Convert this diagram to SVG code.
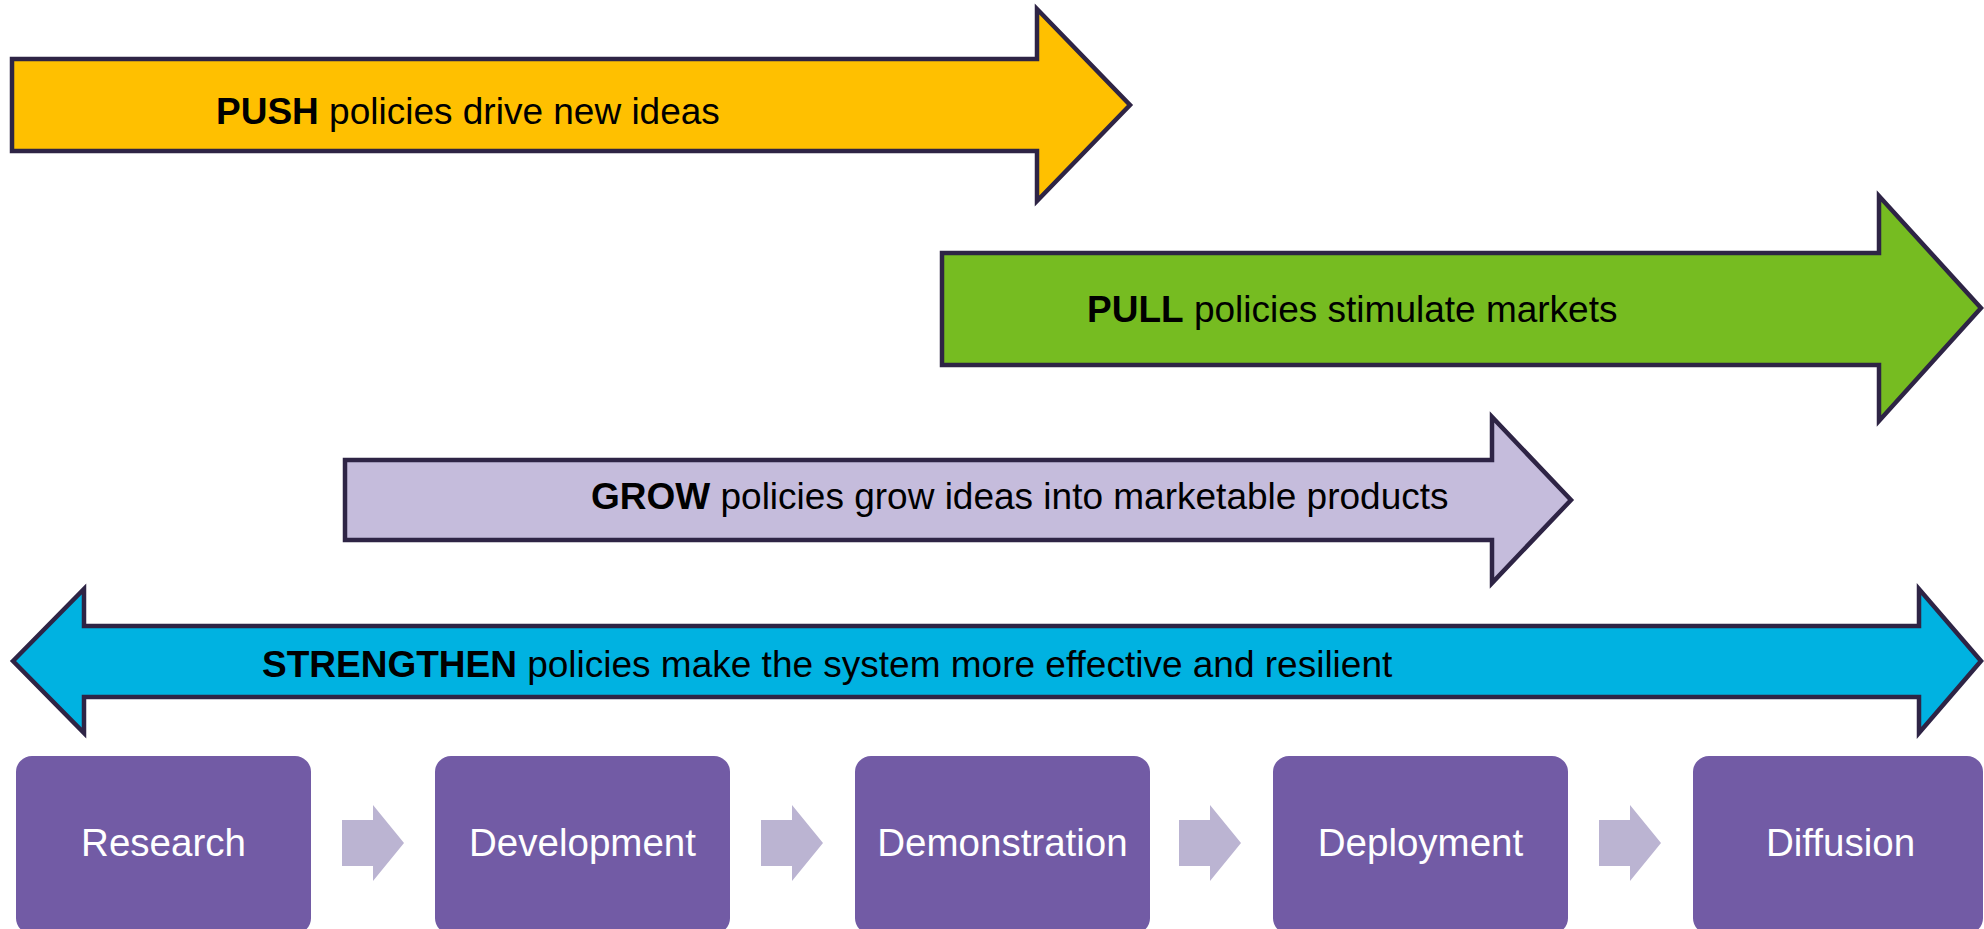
<svg xmlns="http://www.w3.org/2000/svg" width="1984" height="929" viewBox="0 0 1984 929">
<style>
.arrow{stroke:#2E2445;stroke-width:4.5;stroke-linejoin:miter}
.lbl{font-family:"Liberation Sans",Arial,sans-serif;font-size:37px;fill:#000}
.lbl tspan.b{font-weight:bold}
.box{fill:#725BA5}
.btxt{font-family:"Liberation Sans",Arial,sans-serif;font-size:38.5px;fill:#fff;text-anchor:middle}
.chev{fill:#BBB4D2}
</style>
<rect width="1984" height="929" fill="#fff"/>
<g id="push">
<path class="arrow" fill="#FFC000" d="M12,59 H1037 V9 L1130,105 L1037,201 V151 H12 Z"/>
<text class="lbl" x="216" y="124"><tspan class="b">PUSH</tspan> policies drive new ideas</text>
</g>
<g id="pull">
<path class="arrow" fill="#76BC21" d="M942,253 H1879 V196 L1981,308 L1879,421 V365 H942 Z"/>
<text class="lbl" x="1087" y="322"><tspan class="b">PULL</tspan> policies stimulate markets</text>
</g>
<g id="grow">
<path class="arrow" fill="#C5BCDC" d="M345,460 H1492 V417 L1571,500 L1492,583 V540 H345 Z"/>
<text class="lbl" x="591" y="509"><tspan class="b">GROW</tspan> policies grow ideas into marketable products</text>
</g>
<g id="strengthen">
<path class="arrow" fill="#00B2E1" d="M13,661 L84,589 V626 H1919 V589 L1981,661 L1919,733 V697 H84 V733 Z"/>
<text class="lbl" x="262" y="677"><tspan class="b">STRENGTHEN</tspan> policies make the system more effective and resilient</text>
</g>
<g id="research"><rect class="box" x="16" y="756" width="295" height="178" rx="16"/><text class="btxt" x="163.5" y="856">Research</text></g>
<g id="development"><rect class="box" x="435" y="756" width="295" height="178" rx="16"/><text class="btxt" x="582.5" y="856">Development</text></g>
<g id="demonstration"><rect class="box" x="855" y="756" width="295" height="178" rx="16"/><text class="btxt" x="1002.5" y="856">Demonstration</text></g>
<g id="deployment"><rect class="box" x="1273" y="756" width="295" height="178" rx="16"/><text class="btxt" x="1420.5" y="856">Deployment</text></g>
<g id="diffusion"><rect class="box" x="1693" y="756" width="290" height="178" rx="16"/><text class="btxt" x="1840.5" y="856">Diffusion</text></g>
<g id="connectors">
<path class="chev" d="M342,820 H373 V805 L404,843 L373,881 V866 H342 Z"/>
<path class="chev" transform="translate(419,0)" d="M342,820 H373 V805 L404,843 L373,881 V866 H342 Z"/>
<path class="chev" transform="translate(837,0)" d="M342,820 H373 V805 L404,843 L373,881 V866 H342 Z"/>
<path class="chev" transform="translate(1257,0)" d="M342,820 H373 V805 L404,843 L373,881 V866 H342 Z"/>
</g>
</svg>
